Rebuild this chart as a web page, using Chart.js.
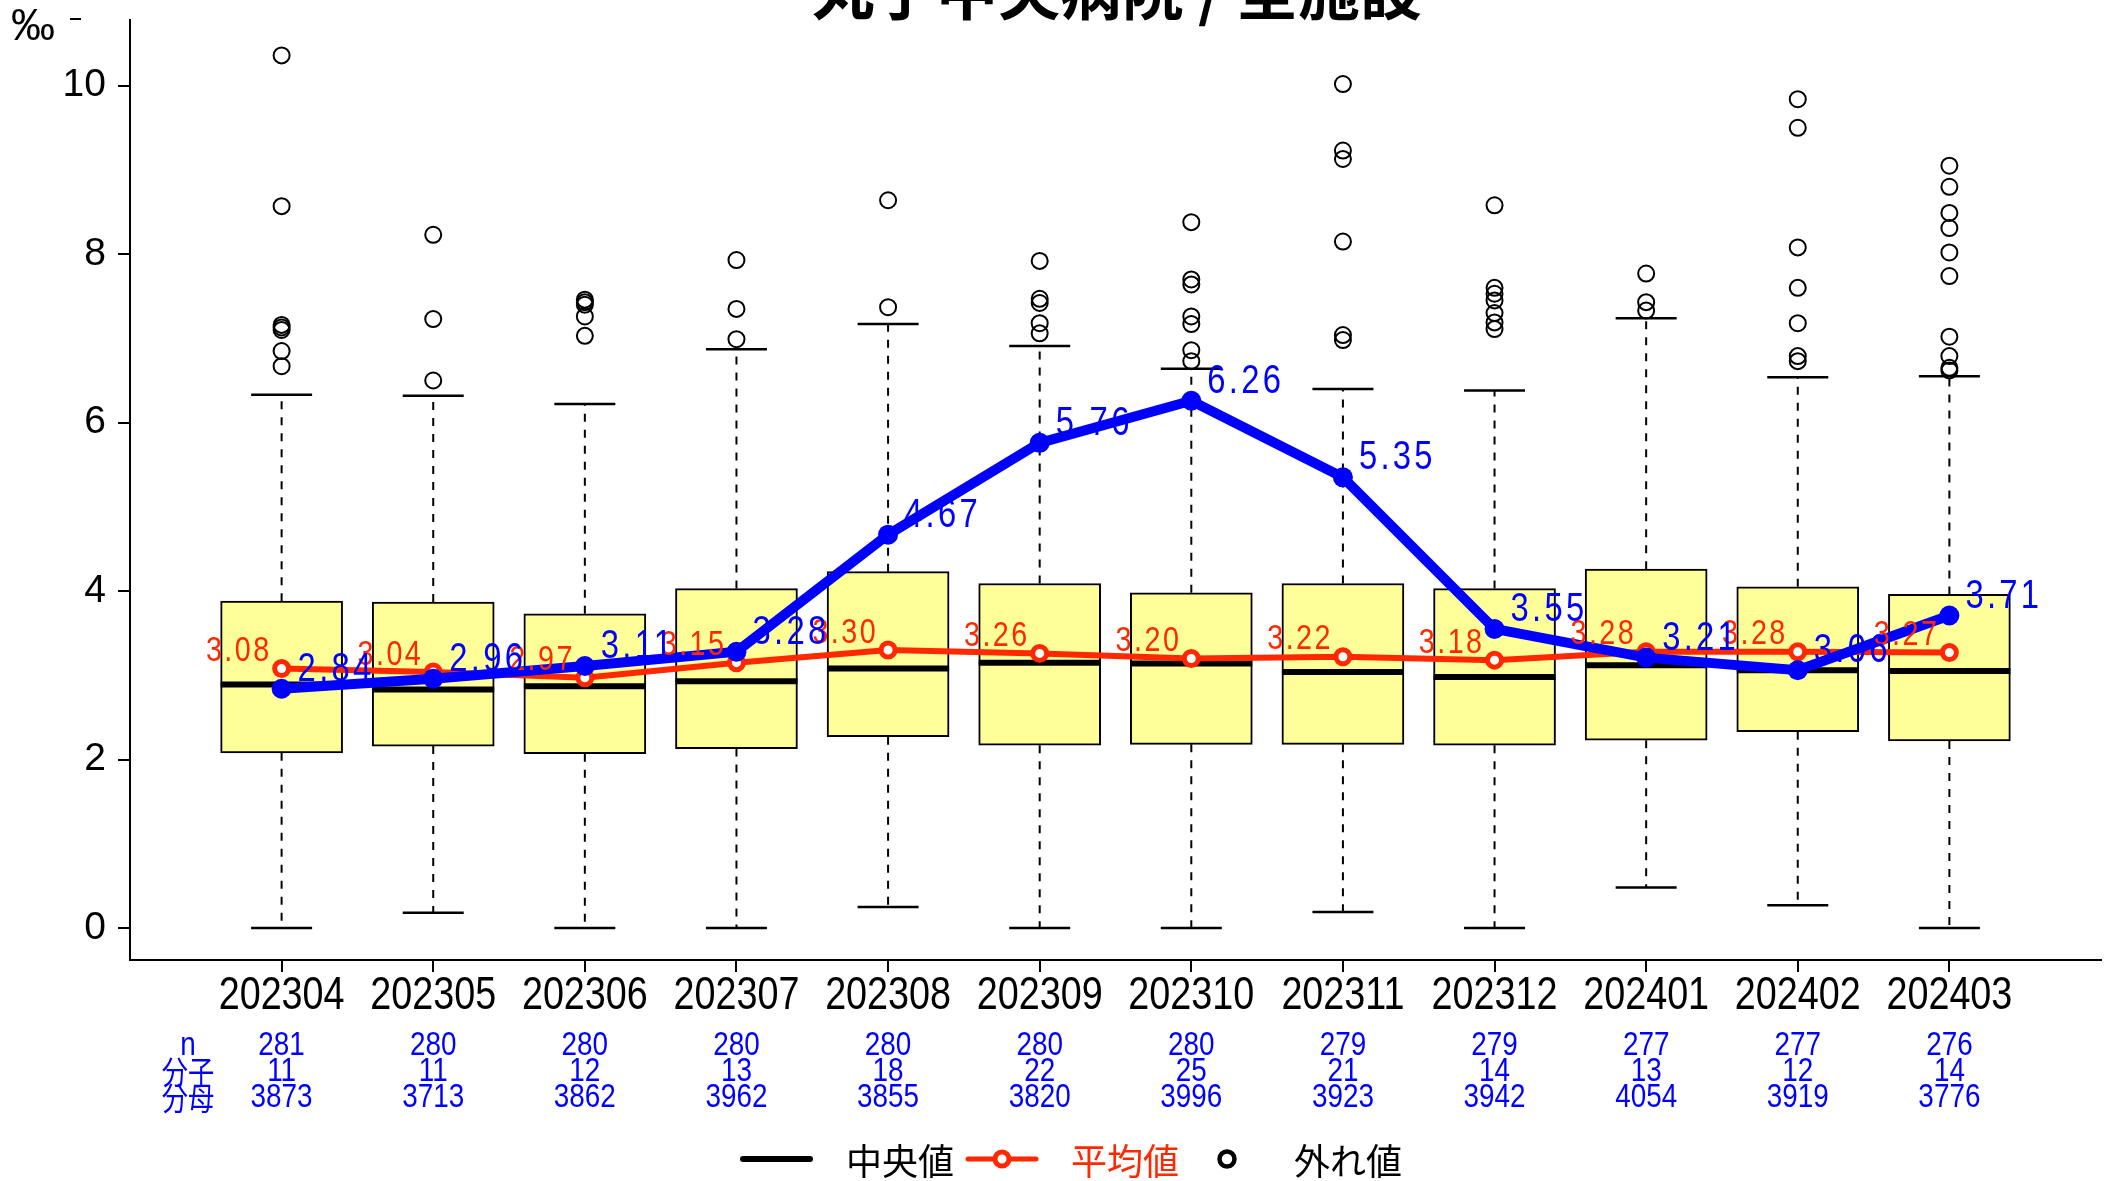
<!DOCTYPE html>
<html>
<head>
  <meta charset="UTF-8">
  <title>丸子中央病院 / 全施設</title>
  <script src="https://cdn.jsdelivr.net/npm/chart.js"></script>
  <style>
    body {
      margin: 0;
      padding: 0;
      background-color: #fff;
    }
    canvas {
      display: block;
    }
  </style>
</head>
<body>
  <canvas id="boxChart" width="2109" height="1181"></canvas>

  <script>
    // data
    const months = ['202304', '202305', '202306', '202307', '202308', '202309',
      '202310', '202311', '202312', '202401', '202402', '202403'];
    const q1Vals = [2.08, 2.16, 2.07, 2.13, 2.27, 2.17, 2.18, 2.18, 2.17, 2.23, 2.33, 2.22];
    const q3Vals = [3.88, 3.87, 3.73, 4.03, 4.23, 4.09, 3.98, 4.09, 4.03, 4.26, 4.05, 3.96];
    const medianVals = [2.89, 2.83, 2.87, 2.93, 3.08, 3.15, 3.14, 3.04, 2.98, 3.12, 3.06, 3.05];
    const whiskerLow = [0, 0.18, 0, 0, 0.25, 0, 0, 0.19, 0, 0.48, 0.27, 0];
    const whiskerHigh = [6.33, 6.32, 6.22, 6.87, 7.17, 6.91, 6.64, 6.40, 6.38, 7.24, 6.54, 6.55];
    const outlierVals = [
      [10.36, 8.57, 7.16, 7.13, 7.10, 6.85, 6.67],
      [8.23, 7.23, 6.50],
      [7.46, 7.43, 7.40, 7.26, 7.03],
      [7.93, 7.35, 6.99],
      [8.64, 7.37],
      [7.92, 7.47, 7.42, 7.18, 7.06],
      [8.38, 7.70, 7.64, 7.26, 7.17, 6.86, 6.73],
      [10.02, 9.23, 9.13, 8.15, 7.04, 6.98],
      [8.58, 7.60, 7.53, 7.45, 7.30, 7.19, 7.11],
      [7.77, 7.43, 7.33],
      [9.84, 9.50, 8.08, 7.60, 7.18, 6.79, 6.73],
      [9.05, 8.80, 8.49, 8.31, 8.02, 7.74, 7.02, 6.79, 6.65, 6.62]
    ];
    const meanVals = [3.08, 3.04, 2.97, 3.15, 3.30, 3.26, 3.20, 3.22, 3.18, 3.28, 3.28, 3.27];
    const rateVals = [2.84, 2.96, 3.11, 3.28, 4.67, 5.76, 6.26, 5.35, 3.55, 3.21, 3.06, 3.71];
    const nCounts = [281, 280, 280, 280, 280, 280, 280, 279, 279, 277, 277, 276];
    const numerators = [11, 11, 12, 13, 18, 22, 25, 21, 14, 13, 12, 14];
    const denominators = [3873, 3713, 3862, 3962, 3855, 3820, 3996, 3923, 3942, 4054, 3919, 3776];
    const yTicks = [0, 2, 4, 6, 8, 10];

    const RED = 'rgb(255, 40, 0)';
    const BLUE = '#0000ff';
    const SANS = "'Liberation Sans', Arial, sans-serif";
    const CJK = "'Noto Sans CJK JP', 'Noto Sans', sans-serif";
    const SQUEEZE = 0.82; // the original uses a narrow face

    // build the datasets from the arrays
    var boxData = months.map((m, i) => ({ x: i + 1, y: [q1Vals[i], q3Vals[i]] }));
    var outlierData = [];
    outlierVals.forEach(function (list, i) {
      list.forEach(v => outlierData.push({ x: i + 1, y: v }));
    });
    var meanData = meanVals.map((v, i) => ({ x: i + 1, y: v }));
    var rateData = rateVals.map((v, i) => ({ x: i + 1, y: v }));

    // horizontally squeezed text
    function narrowText(ctx, text, x, y) {
      ctx.save();
      ctx.translate(x, y);
      ctx.scale(SQUEEZE, 1);
      ctx.fillText(text, 0, 0);
      ctx.restore();
    }

    // whiskers, caps and medians, drawn right after the boxes
    const boxPartsPlugin = {
      id: 'boxParts',
      afterDatasetDraw(chart, args) {
        if (args.index !== 0) return;
        var ctx = chart.ctx;
        var xs = chart.scales.x, ys = chart.scales.y;
        var meta = chart.getDatasetMeta(0);
        ctx.save();
        months.forEach(function (m, i) {
          var px = xs.getPixelForValue(i + 1);
          var half = meta.data[i].width / 2;
          var capHalf = half / 2;
          ctx.strokeStyle = '#000';
          ctx.lineWidth = 2;
          // dashed whiskers
          ctx.setLineDash([8, 8]);
          ctx.beginPath();
          ctx.moveTo(px, ys.getPixelForValue(q3Vals[i]));
          ctx.lineTo(px, ys.getPixelForValue(whiskerHigh[i]));
          ctx.moveTo(px, ys.getPixelForValue(q1Vals[i]));
          ctx.lineTo(px, ys.getPixelForValue(whiskerLow[i]));
          ctx.stroke();
          ctx.setLineDash([]);
          // caps
          ctx.lineWidth = 2.5;
          ctx.beginPath();
          var yh = ys.getPixelForValue(whiskerHigh[i]);
          var yl = ys.getPixelForValue(whiskerLow[i]);
          ctx.moveTo(px - capHalf, yh);
          ctx.lineTo(px + capHalf, yh);
          ctx.moveTo(px - capHalf, yl);
          ctx.lineTo(px + capHalf, yl);
          ctx.stroke();
          // median
          ctx.lineWidth = 6;
          ctx.beginPath();
          var ym = ys.getPixelForValue(medianVals[i]);
          ctx.moveTo(px - half, ym);
          ctx.lineTo(px + half, ym);
          ctx.stroke();
        });
        ctx.restore();
      }
    };

    // title, month labels, value labels, table under the axis and legend
    const textPlugin = {
      id: 'texts',
      afterDraw(chart) {
        var ctx = chart.ctx;
        var xs = chart.scales.x, ys = chart.scales.y;
        ctx.save();

        // title (cut by the top edge like the original)
        ctx.fillStyle = '#000';
        ctx.font = 'bold 62px ' + CJK;
        ctx.textAlign = 'center';
        ctx.textBaseline = 'ideographic';
        ctx.fillText('丸子中央病院 / 全施設', 1117, 22);

        // unit
        ctx.font = '44px ' + SANS;
        ctx.textAlign = 'left';
        ctx.textBaseline = 'middle';
        ctx.fillText('‰', 11, 28);
        ctx.lineWidth = 2;
        ctx.strokeStyle = '#000';
        ctx.beginPath();
        ctx.moveTo(70, 19);
        ctx.lineTo(81, 19);
        ctx.stroke();

        // month labels under the ticks
        ctx.font = '46px ' + SANS;
        ctx.textAlign = 'center';
        ctx.textBaseline = 'middle';
        months.forEach(function (m, i) {
          narrowText(ctx, m, xs.getPixelForValue(i + 1), xs.top + 36);
        });

        // mean labels
        ctx.font = '35px ' + SANS;
        ctx.fillStyle = RED;
        ctx.textAlign = 'right';
        ctx.letterSpacing = '3px';
        meanVals.forEach(function (v, i) {
          narrowText(ctx, v.toFixed(2), xs.getPixelForValue(i + 1) - 10, ys.getPixelForValue(v) - 17);
        });

        // rate labels
        ctx.font = '40px ' + SANS;
        ctx.fillStyle = BLUE;
        ctx.textAlign = 'left';
        ctx.letterSpacing = '4px';
        rateVals.forEach(function (v, i) {
          narrowText(ctx, v.toFixed(2), xs.getPixelForValue(i + 1) + 16, ys.getPixelForValue(v) - 19);
        });
        ctx.letterSpacing = '0px';

        // n / 分子 / 分母 table
        var rows = [1046, 1072, 1098];
        ctx.font = '34px ' + SANS;
        ctx.textAlign = 'center';
        ctx.fillStyle = BLUE;
        narrowText(ctx, 'n', 188, rows[0]);
        ctx.font = '32px ' + CJK;
        narrowText(ctx, '分子', 188, rows[1]);
        narrowText(ctx, '分母', 188, rows[2]);
        ctx.font = '34px ' + SANS;
        months.forEach(function (m, i) {
          var px = xs.getPixelForValue(i + 1);
          narrowText(ctx, String(nCounts[i]), px, rows[0]);
          narrowText(ctx, String(numerators[i]), px, rows[1]);
          narrowText(ctx, String(denominators[i]), px, rows[2]);
        });

        // legend
        var ly = 1159;
        ctx.lineCap = 'round';
        ctx.strokeStyle = '#000';
        ctx.lineWidth = 6;
        ctx.beginPath();
        ctx.moveTo(743, ly);
        ctx.lineTo(810, ly);
        ctx.stroke();
        ctx.strokeStyle = RED;
        ctx.lineWidth = 5;
        ctx.beginPath();
        ctx.moveTo(968, ly);
        ctx.lineTo(1036, ly);
        ctx.stroke();
        ctx.fillStyle = '#fff';
        ctx.beginPath();
        ctx.arc(1002, ly, 7, 0, Math.PI * 2);
        ctx.fill();
        ctx.stroke();
        ctx.strokeStyle = '#000';
        ctx.lineWidth = 4.5;
        ctx.beginPath();
        ctx.arc(1227, ly, 7.5, 0, Math.PI * 2);
        ctx.stroke();

        ctx.font = '36px ' + CJK;
        ctx.textAlign = 'left';
        ctx.textBaseline = 'middle';
        ctx.fillStyle = '#000';
        ctx.fillText('中央値', 846, ly + 2);
        ctx.fillStyle = RED;
        ctx.fillText('平均値', 1071, ly + 2);
        ctx.fillStyle = '#000';
        ctx.fillText('外れ値', 1294, ly + 2);

        ctx.restore();
      }
    };

    var ctx = document.getElementById('boxChart').getContext('2d');
    var boxChart = new Chart(ctx, {
      type: 'bar',
      data: {
        datasets: [
          {
            type: 'bar',
            label: 'box',
            data: boxData,
            backgroundColor: '#ffff99',
            borderColor: '#000',
            borderWidth: 2,
            borderSkipped: false,
            barThickness: 122,
            order: 4
          },
          {
            type: 'scatter',
            label: '外れ値',
            data: outlierData,
            showLine: false,
            pointStyle: 'circle',
            pointRadius: 8,
            pointBorderWidth: 2,
            pointBorderColor: '#000',
            pointBackgroundColor: 'rgba(0,0,0,0)',
            order: 3
          },
          {
            type: 'line',
            label: '平均値',
            data: meanData,
            borderColor: RED,
            borderWidth: 6,
            pointRadius: 7,
            pointBorderWidth: 5,
            pointBorderColor: RED,
            pointBackgroundColor: '#fff',
            fill: false,
            tension: 0,
            order: 2
          },
          {
            type: 'line',
            label: 'rate',
            data: rateData,
            borderColor: BLUE,
            borderWidth: 10,
            pointRadius: 10,
            pointBorderWidth: 0,
            pointBackgroundColor: BLUE,
            fill: false,
            tension: 0,
            order: 1
          }
        ]
      },
      options: {
        responsive: false,
        animation: false,
        devicePixelRatio: 1,
        layout: {
          autoPadding: false,
          padding: { left: 0, top: 20, right: 8, bottom: 0 }
        },
        plugins: {
          legend: { display: false },
          tooltip: { enabled: false },
          title: { display: false }
        },
        scales: {
          x: {
            type: 'linear',
            min: 0,
            max: 13,
            offset: false,
            afterBuildTicks: function (scale) {
              scale.ticks = months.map((m, i) => ({ value: i + 1 }));
            },
            afterFit: function (scale) {
              scale.height = 221;
              scale.paddingLeft = 0;
              scale.paddingRight = 0;
            },
            ticks: {
              autoSkip: false,
              maxRotation: 0,
              padding: 6,
              color: 'rgba(0,0,0,0)',
              font: { family: SANS, size: 40 },
              callback: function (value) {
                return months[value - 1];
              }
            },
            grid: {
              offset: false,
              drawOnChartArea: false,
              drawTicks: true,
              tickLength: 12,
              color: '#000',
              lineWidth: 2
            },
            border: { display: true, color: '#000', width: 2 }
          },
          y: {
            type: 'linear',
            min: -0.38,
            max: 10.78,
            afterBuildTicks: function (scale) {
              scale.ticks = yTicks.map(v => ({ value: v }));
            },
            afterFit: function (scale) {
              scale.width = 130;
              scale.paddingTop = 0;
              scale.paddingBottom = 0;
            },
            ticks: {
              padding: 12,
              color: '#000',
              font: { family: SANS, size: 39 }
            },
            grid: {
              drawOnChartArea: false,
              drawTicks: true,
              tickLength: 12,
              color: '#000',
              lineWidth: 2
            },
            border: { display: true, color: '#000', width: 2 }
          }
        }
      },
      plugins: [boxPartsPlugin, textPlugin]
    });
  </script>
</body>
</html>
